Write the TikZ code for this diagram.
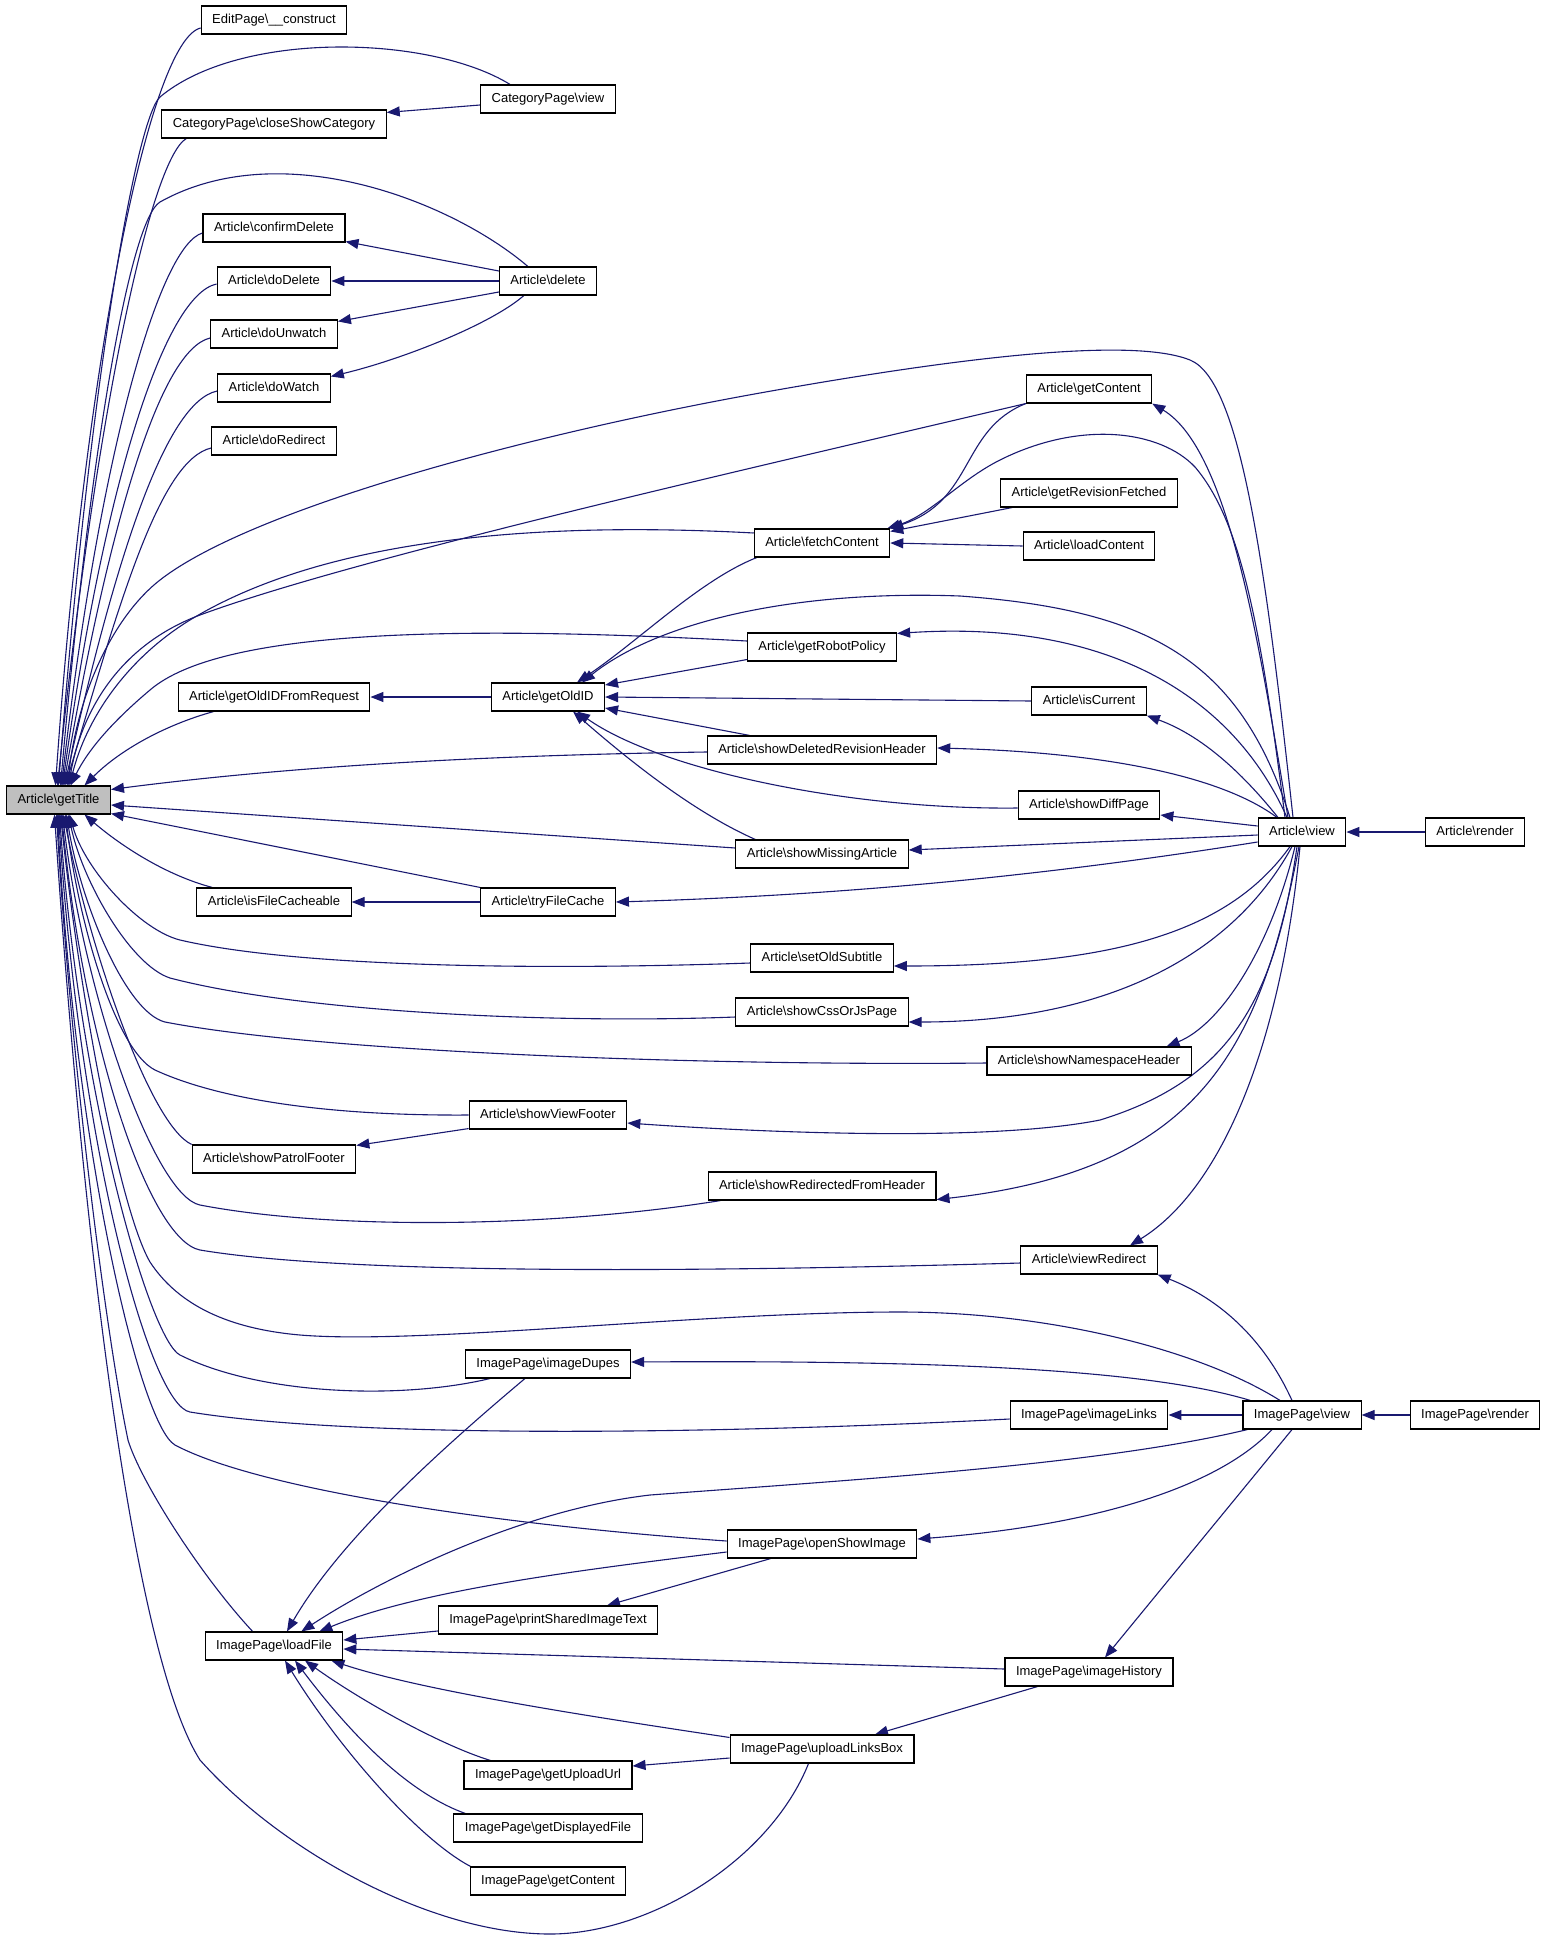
\documentclass[tikz,border=0pt]{standalone}
\usepackage{fontspec}
\setmainfont{Liberation Sans}
\usetikzlibrary{arrows.meta,calc,backgrounds}
\definecolor{edgec}{HTML}{191970}
\definecolor{gtfill}{HTML}{BFBFBF}
\begin{document}
\begin{tikzpicture}[x=1pt,y=-1pt,
  fn/.style={draw=black, line width=1.1pt, fill=white, minimum height=28pt, inner xsep=11pt, inner ysep=0pt, text height=9.5pt, text depth=2.5pt, font=\fontsize{13}{15}\selectfont},
  edg/.style={draw=edgec, line width=1.1pt, -{Triangle[length=13pt,width=10pt]}}]
\useasboundingbox (0,0) rectangle (1541,1940);
% nodes
\node[fn, fill=gtfill] (gt) at (58.5,800) {Article\textbackslash getTitle};
\node[fn] (ep) at (274,20) {EditPage\textbackslash\_\_construct};
\node[fn] (cpv) at (548,99) {CategoryPage\textbackslash view};
\node[fn] (csc) at (274,124) {CategoryPage\textbackslash closeShowCategory};
\node[fn] (cd) at (274,228) {Article\textbackslash confirmDelete};
\node[fn] (del) at (548,281) {Article\textbackslash delete};
\node[fn] (dd) at (274,281) {Article\textbackslash doDelete};
\node[fn] (duw) at (274,334) {Article\textbackslash doUnwatch};
\node[fn] (dw) at (274,388) {Article\textbackslash doWatch};
\node[fn] (dr) at (274,441) {Article\textbackslash doRedirect};
\node[fn] (gc) at (1089,389) {Article\textbackslash getContent};
\node[fn] (grf) at (1089,493) {Article\textbackslash getRevisionFetched};
\node[fn] (fc) at (822,543) {Article\textbackslash fetchContent};
\node[fn] (lc) at (1089,546) {Article\textbackslash loadContent};
\node[fn] (grp) at (822,647) {Article\textbackslash getRobotPolicy};
\node[fn] (goifr) at (274,697) {Article\textbackslash getOldIDFromRequest};
\node[fn] (goi) at (548,697) {Article\textbackslash getOldID};
\node[fn] (ic) at (1089,701) {Article\textbackslash isCurrent};
\node[fn] (sdrh) at (822,750) {Article\textbackslash showDeletedRevisionHeader};
\node[fn] (sdp) at (1089,805) {Article\textbackslash showDiffPage};
\node[fn] (av) at (1302,832) {Article\textbackslash view};
\node[fn] (ar) at (1475,832) {Article\textbackslash render};
\node[fn] (sma) at (822,854) {Article\textbackslash showMissingArticle};
\node[fn] (ifc) at (274,902) {Article\textbackslash isFileCacheable};
\node[fn] (tfc) at (548,902) {Article\textbackslash tryFileCache};
\node[fn] (sos) at (822,958) {Article\textbackslash setOldSubtitle};
\node[fn] (scj) at (822,1012) {Article\textbackslash showCssOrJsPage};
\node[fn] (snh) at (1089,1061) {Article\textbackslash showNamespaceHeader};
\node[fn] (svf) at (548,1115) {Article\textbackslash showViewFooter};
\node[fn] (spf) at (274,1159) {Article\textbackslash showPatrolFooter};
\node[fn] (srfh) at (822,1186) {Article\textbackslash showRedirectedFromHeader};
\node[fn] (vr) at (1089,1260) {Article\textbackslash viewRedirect};
\node[fn] (idp) at (548,1364) {ImagePage\textbackslash imageDupes};
\node[fn] (il) at (1089,1415) {ImagePage\textbackslash imageLinks};
\node[fn] (iv) at (1302,1415) {ImagePage\textbackslash view};
\node[fn] (irn) at (1475,1415) {ImagePage\textbackslash render};
\node[fn] (osi) at (822,1544) {ImagePage\textbackslash openShowImage};
\node[fn] (psit) at (548,1620) {ImagePage\textbackslash printSharedImageText};
\node[fn] (lf) at (274,1646) {ImagePage\textbackslash loadFile};
\node[fn] (ih) at (1089,1672) {ImagePage\textbackslash imageHistory};
\node[fn] (ulb) at (822,1749) {ImagePage\textbackslash uploadLinksBox};
\node[fn] (guu) at (548,1775) {ImagePage\textbackslash getUploadUrl};
\node[fn] (gdf) at (548,1828) {ImagePage\textbackslash getDisplayedFile};
\node[fn] (igc) at (548,1881) {ImagePage\textbackslash getContent};
\begin{scope}[on background layer]
\fill[white] (0,0) rectangle (1541,1940);
% edges into getTitle, from above
\draw[edg] ($(ep.west)+(0,8)$) .. controls (150,40) and (85,360) .. ($(gt.north)+(-3,0)$);
\draw[edg] ($(csc.south west)+(25,0)$) .. controls (150,160) and (95,420) .. ($(gt.north)+(-1,0)$);
\draw[edg] ($(cpv.north west)+(30,0)$) .. controls (430,35) and (240,30) .. (160,97) .. controls (135,120) and (88,400) .. (gt.north);
\draw[edg] ($(del.north west)+(29,0)$) .. controls (450,200) and (280,135) .. (160,202) .. controls (130,220) and (90,450) .. ($(gt.north)+(2,0)$);
\draw[edg] ($(cd.west)+(0,5)$) .. controls (160,245) and (100,450) .. ($(gt.north)+(3,0)$);
\draw[edg] ($(dd.west)+(0,3)$) .. controls (165,295) and (105,480) .. ($(gt.north)+(4,0)$);
\draw[edg] ($(duw.west)+(0,4)$) .. controls (160,350) and (110,520) .. ($(gt.north)+(5,0)$);
\draw[edg] ($(dw.west)+(0,3)$) .. controls (165,402) and (115,560) .. ($(gt.north)+(6,0)$);
\draw[edg] ($(dr.west)+(0,7)$) .. controls (160,460) and (120,600) .. ($(gt.north)+(7,0)$);
\draw[edg] ($(av.north)+(-9,0)$) .. controls (1265,560) and (1240,380) .. (1190,360) .. controls (1140,340) and (1000,350) .. (760,393) .. controls (520,436) and (250,510) .. (160,580) .. controls (115,615) and (78,690) .. ($(gt.north)+(9,0)$);
\draw[edg] (gc.south west) .. controls (700,480) and (350,560) .. (200,615) .. controls (120,645) and (82,710) .. ($(gt.north)+(10,0)$);
\draw[edg] ($(fc.west)+(0,-10)$) .. controls (550,522) and (330,535) .. (190,620) .. controls (125,660) and (86,720) .. ($(gt.north)+(11,0)$);
\draw[edg] ($(grp.west)+(0,-6)$) .. controls (450,625) and (220,630) .. (150,690) .. controls (112,722) and (88,750) .. ($(gt.north)+(12,0)$);
\draw[edg] ($(goifr.south west)+(36,0)$) .. controls (165,725) and (120,750) .. ($(gt.north)+(26,0)$);
\draw[edg] ($(sdrh.west)+(0,2)$) .. controls (500,755) and (300,765) .. ($(gt.north east)+(0,4)$);
\draw[edg] ($(sma.west)+(0,-6)$) .. controls (500,832) and (300,818) .. ($(gt.east)+(0,5)$);
\draw[edg] (tfc.north west) -- ($(gt.south east)+(0,-1)$);
% edges into getTitle, from below
\draw[edg] ($(ifc.north west)+(16,0)$) .. controls (165,875) and (120,845) .. ($(gt.south)+(26,0)$);
\draw[edg] ($(sos.west)+(0,5)$) .. controls (550,970) and (300,968) .. (180,940) .. controls (140,930) and (85,870) .. ($(gt.south)+(11,0)$);
\draw[edg] ($(scj.west)+(0,5)$) .. controls (550,1024) and (300,1012) .. (170,978) .. controls (130,965) and (82,880) .. ($(gt.south)+(10,0)$);
\draw[edg] ($(snh.west)+(0,2)$) .. controls (700,1066) and (320,1052) .. (165,1022) .. controls (125,1012) and (80,900) .. ($(gt.south)+(8,0)$);
\draw[edg] (svf.west) .. controls (330,1116) and (220,1100) .. (155,1070) .. controls (115,1050) and (78,920) .. ($(gt.south)+(7,0)$);
\draw[edg] (spf.north west) .. controls (150,1125) and (90,950) .. ($(gt.south)+(5,0)$);
\draw[edg] ($(srfh.south west)+(13,0)$) .. controls (550,1228) and (330,1230) .. (200,1205) .. controls (155,1196) and (85,1000) .. ($(gt.south)+(4,0)$);
\draw[edg] ($(vr.west)+(0,3)$) .. controls (700,1272) and (350,1275) .. (200,1250) .. controls (150,1240) and (85,1050) .. ($(gt.south)+(3,0)$);
\draw[edg] ($(iv.north)+(-22,0)$) .. controls (1200,1350) and (1050,1312) .. (900,1312) .. controls (700,1312) and (420,1345) .. (300,1335) .. controls (220,1328) and (175,1300) .. (150,1262) .. controls (120,1210) and (80,1000) .. ($(gt.south)+(2,0)$);
\draw[edg] ($(idp.south west)+(25,0)$) .. controls (400,1400) and (260,1395) .. (180,1355) .. controls (150,1340) and (80,1100) .. ($(gt.south)+(1,0)$);
\draw[edg] ($(il.west)+(0,4)$) .. controls (700,1435) and (350,1438) .. (190,1412) .. controls (150,1405) and (80,1150) .. (gt.south);
\draw[edg] ($(osi.west)+(0,-3)$) .. controls (500,1525) and (260,1490) .. (175,1445) .. controls (140,1425) and (75,1150) .. ($(gt.south)+(-1,0)$);
\draw[edg] ($(lf.north west)+(48,0)$) .. controls (200,1575) and (140,1480) .. (128,1440) .. controls (105,1330) and (70,1050) .. ($(gt.south)+(-2,0)$);
\draw[edg] ($(ulb.south west)+(79,0)$) .. controls (770,1860) and (650,1934) .. (550,1934) .. controls (430,1934) and (280,1850) .. (200,1760) .. controls (130,1650) and (80,1200) .. ($(gt.south)+(-4,0)$);
% other edges
\draw[edg] ($(cpv.west)+(0,6)$) -- ($(csc.north east)+(0,3)$);
\draw[edg] ($(del.west)+(0,-10)$) -- ($(cd.south east)+(0,-1)$);
\draw[edg] (del.west) -- (dd.east);
\draw[edg] ($(del.west)+(0,11)$) -- ($(duw.north east)+(0,2)$);
\draw[edg] ($(del.south west)+(25,0)$) .. controls (490,325) and (400,360) .. ($(dw.north east)+(0,3)$);
\draw[edg] (goi.west) -- (goifr.east);
\draw[edg] (tfc.west) -- (ifc.east);
\draw[edg] ($(svf.south west)+(0,-1)$) -- ($(spf.north east)+(0,1)$);
\draw[edg] ($(fc.south west)+(3,0)$) .. controls (700,580) and (640,640) .. ($(goi.north)+(29,0)$);
\draw[edg] ($(av.north)+(-12,0)$) .. controls (1240,660) and (1150,610) .. (960,596) .. controls (800,590) and (660,620) .. ($(goi.north)+(34,0)$);
\draw[edg] ($(grp.south west)+(0,-2)$) -- ($(goi.east)+(0,-12)$);
\draw[edg] (ic.west) -- (goi.east);
\draw[edg] ($(sdrh.north west)+(43,0)$) -- ($(goi.east)+(0,11)$);
\draw[edg] ($(sdp.west)+(0,3)$) .. controls (850,810) and (660,770) .. ($(goi.south)+(29,0)$);
\draw[edg] ($(sma.north west)+(20,0)$) .. controls (700,815) and (640,770) .. ($(goi.south)+(25,0)$);
\draw[edg] (gc.south west) .. controls (960,430) and (975,500) .. (fc.north east);
\draw[edg] ($(av.north)+(-17,0)$) .. controls (1260,620) and (1240,520) .. (1195,467) .. controls (1160,430) and (1080,420) .. (1000,460) .. controls (960,480) and (930,515) .. ($(fc.north east)+(-3,0)$);
\draw[edg] ($(grf.south west)+(12,0)$) -- ($(fc.north east)+(0,3)$);
\draw[edg] (lc.west) -- (fc.east);
\draw[edg] ($(av.north)+(-14,0)$) .. controls (1260,650) and (1230,450) .. (gc.south east);
\draw[edg] ($(av.north)+(-15,0)$) .. controls (1230,690) and (1100,620) .. ($(grp.north east)+(0,1)$);
\draw[edg] ($(av.north)+(-24,0)$) .. controls (1240,770) and (1200,735) .. (ic.south east);
\draw[edg] ($(av.north)+(-25,0)$) .. controls (1220,775) and (1100,752) .. ($(sdrh.east)+(0,-2)$);
\draw[edg] ($(av.west)+(0,-6)$) -- ($(sdp.east)+(0,10)$);
\draw[edg] ($(av.west)+(0,3)$) -- ($(sma.east)+(0,-4)$);
\draw[edg] ($(av.west)+(0,10)$) .. controls (1050,875) and (850,895) .. (tfc.east);
\draw[edg] ($(av.south)+(-12,0)$) .. controls (1230,930) and (1120,966) .. ($(sos.east)+(0,8)$);
\draw[edg] ($(av.south)+(-10,0)$) .. controls (1230,960) and (1100,1022) .. ($(scj.east)+(0,10)$);
\draw[edg] ($(av.south)+(-7,0)$) .. controls (1270,950) and (1220,1025) .. ($(snh.north east)+(-25,0)$);
\draw[edg] ($(av.south)+(-5,0)$) .. controls (1275,1000) and (1230,1080) .. (1100,1120) .. controls (1000,1140) and (800,1135) .. ($(svf.east)+(0,8)$);
\draw[edg] ($(av.south)+(-3,0)$) .. controls (1260,1050) and (1200,1170) .. ($(srfh.south east)+(0,-1)$);
\draw[edg] ($(av.south)+(-2,0)$) .. controls (1280,1050) and (1220,1190) .. ($(vr.north)+(41,0)$);
\draw[edg] (ar.west) -- (av.east);
\draw[edg] ($(iv.north)+(-10,0)$) .. controls (1260,1330) and (1210,1295) .. (vr.south east);
\draw[edg] ($(iv.north west)+(8,0)$) .. controls (1150,1370) and (950,1360) .. ($(idp.east)+(0,-2)$);
\draw[edg] (iv.west) -- (il.east);
\draw[edg] (irn.west) -- (iv.east);
\draw[edg] ($(iv.south)+(-30,0)$) .. controls (1220,1485) and (1100,1525) .. ($(osi.east)+(0,-5)$);
\draw[edg] ($(iv.south)+(-10,0)$) -- ($(ih.north)+(16,0)$);
\draw[edg] ($(iv.south west)+(5,0)$) .. controls (1100,1465) and (850,1480) .. (650,1495) .. controls (520,1510) and (380,1580) .. ($(lf.north east)+(-42,0)$);
\draw[edg] ($(idp.south west)+(60,0)$) .. controls (440,1450) and (340,1540) .. ($(lf.north)+(13,0)$);
\draw[edg] ($(osi.west)+(0,8)$) .. controls (580,1570) and (420,1590) .. ($(lf.north east)+(-24,0)$);
\draw[edg] ($(osi.south west)+(44,0)$) -- ($(psit.north)+(59,0)$);
\draw[edg] ($(psit.west)+(0,11)$) -- ($(lf.east)+(0,-6)$);
\draw[edg] ($(ih.west)+(0,-3)$) -- ($(lf.east)+(0,3)$);
\draw[edg] ($(ih.south west)+(33,0)$) -- ($(ulb.north)+(53,0)$);
\draw[edg] ($(ulb.north west)+(0,3)$) .. controls (580,1715) and (420,1690) .. ($(lf.south east)+(-12,0)$);
\draw[edg] ($(ulb.west)+(0,9)$) -- ($(guu.east)+(0,-9)$);
\draw[edg] ($(guu.north west)+(27,0)$) .. controls (440,1745) and (360,1700) .. ($(lf.south)+(31,0)$);
\draw[edg] ($(gdf.north west)+(12,0)$) .. controls (400,1790) and (340,1720) .. ($(lf.south)+(21,0)$);
\draw[edg] ($(igc.north west)+(1,0)$) .. controls (420,1840) and (340,1750) .. ($(lf.south)+(11,0)$);
\end{scope}
\end{tikzpicture}
\end{document}
